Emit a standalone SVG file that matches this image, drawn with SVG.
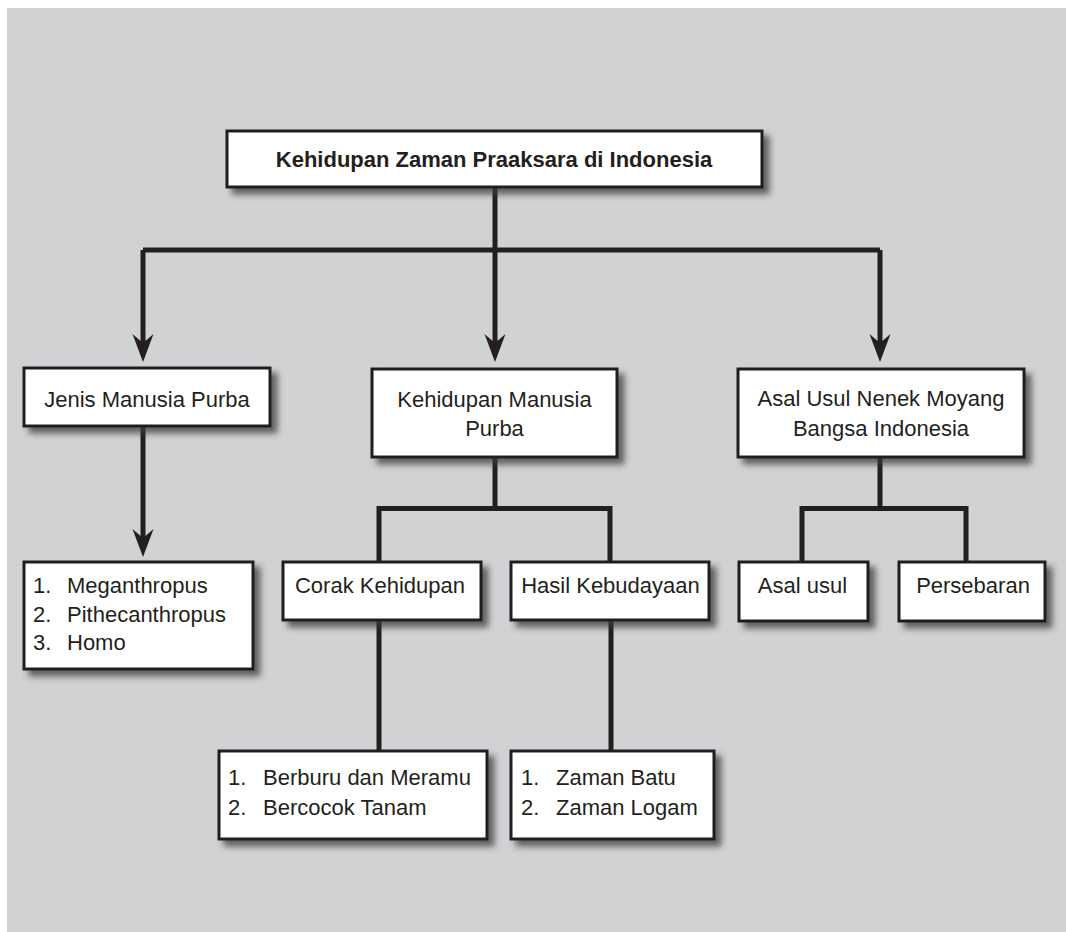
<svg xmlns="http://www.w3.org/2000/svg" width="1066" height="932" viewBox="0 0 1066 932">
<defs>
<filter id="sh" x="-10%" y="-20%" width="130%" height="160%">
<feDropShadow dx="6" dy="6" stdDeviation="3" flood-color="#3a3a3a" flood-opacity="0.75"/>
</filter>
<path id="ah" d="M0,0 L-10.5,-28 L0,-19 L10.5,-28 Z" fill="#231f20"/>
<style>
.box{fill:#fff;stroke:#231f20;stroke-width:3;filter:url(#sh)}
.t{font-family:"Liberation Sans",Arial,sans-serif;font-size:22px;fill:#231f20}
.c{text-anchor:middle}
.b{font-weight:bold}
.ln{fill:none;stroke:#231f20;stroke-width:5;stroke-linejoin:miter}
</style>
</defs>
<rect x="7" y="8" width="1059" height="924" fill="#d1d2d4"/>
<g id="connectors">
<path class="ln" d="M495,187 V250"/>
<path class="ln" d="M143,250 H880"/>
<path class="ln" d="M143,250 V345"/>
<path class="ln" d="M495,250 V345"/>
<path class="ln" d="M880,250 V345"/>
<use href="#ah" x="143" y="362"/>
<use href="#ah" x="495" y="362"/>
<use href="#ah" x="880" y="362"/>
<path class="ln" d="M143,426 V540"/>
<use href="#ah" x="143" y="557"/>
<path class="ln" d="M495,457 V508.5"/>
<path class="ln" d="M379,562 V508.5 H610 V562"/>
<path class="ln" d="M880,457 V508.5"/>
<path class="ln" d="M802,562 V508.5 H966 V562"/>
<path class="ln" d="M379,620 V751"/>
<path class="ln" d="M611,620 V751"/>
</g>
<g id="title">
<rect class="box" x="227" y="131" width="535" height="56"/>
<text class="t c b" x="494" y="167" font-size="21">Kehidupan Zaman Praaksara di Indonesia</text>
</g>
<g id="jenis">
<rect class="box" x="24" y="368" width="246" height="58"/>
<text class="t c" x="147" y="407">Jenis Manusia Purba</text>
</g>
<g id="kehidupan">
<rect class="box" x="372" y="369" width="245" height="88"/>
<text class="t c" x="494.5" y="407">Kehidupan Manusia</text>
<text class="t c" x="494.5" y="436">Purba</text>
</g>
<g id="asal">
<rect class="box" x="738" y="369" width="286" height="88"/>
<text class="t c" x="881" y="406">Asal Usul Nenek Moyang</text>
<text class="t c" x="881" y="436">Bangsa Indonesia</text>
</g>
<g id="jenis-list">
<rect class="box" x="24" y="562" width="229" height="107"/>
<text class="t" x="33" y="593">1.</text><text class="t" x="67" y="593">Meganthropus</text>
<text class="t" x="33" y="622">2.</text><text class="t" x="67" y="622">Pithecanthropus</text>
<text class="t" x="33" y="650">3.</text><text class="t" x="67" y="650">Homo</text>
</g>
<g id="corak">
<rect class="box" x="283" y="562" width="198" height="58"/>
<text class="t c" x="380" y="593">Corak Kehidupan</text>
</g>
<g id="hasil">
<rect class="box" x="511" y="562" width="198" height="58"/>
<text class="t c" x="610.5" y="593">Hasil Kebudayaan</text>
</g>
<g id="asal-usul">
<rect class="box" x="739" y="562" width="129" height="59"/>
<text class="t c" x="802.5" y="593">Asal usul</text>
</g>
<g id="persebaran">
<rect class="box" x="899" y="562" width="146" height="59"/>
<text class="t c" x="973" y="593">Persebaran</text>
</g>
<g id="corak-list">
<rect class="box" x="219" y="751" width="268" height="88"/>
<text class="t" x="228" y="785">1.</text><text class="t" x="263" y="785">Berburu dan Meramu</text>
<text class="t" x="228" y="815">2.</text><text class="t" x="263" y="815">Bercocok Tanam</text>
</g>
<g id="hasil-list">
<rect class="box" x="511" y="751" width="203" height="88"/>
<text class="t" x="521" y="785">1.</text><text class="t" x="556" y="785">Zaman Batu</text>
<text class="t" x="521" y="815">2.</text><text class="t" x="556" y="815">Zaman Logam</text>
</g>
</svg>
